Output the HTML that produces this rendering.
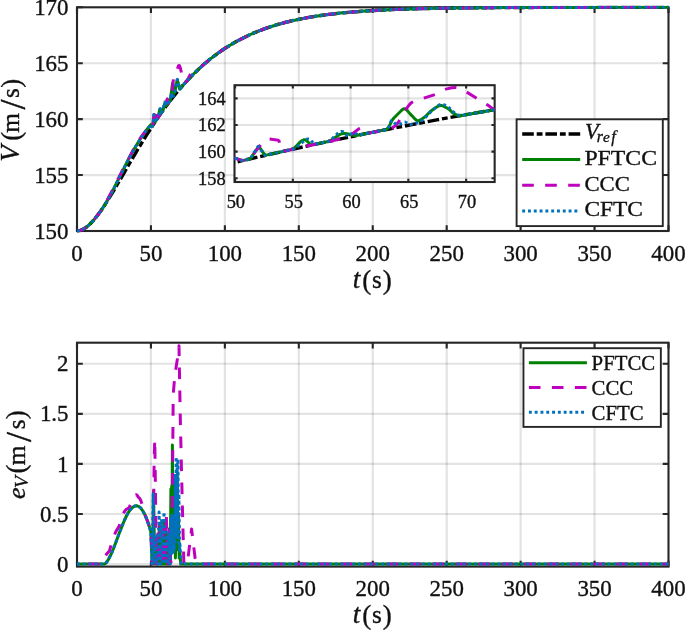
<!DOCTYPE html>
<html lang="en"><head><meta charset="utf-8"><title>Velocity tracking</title>
<style>html,body{margin:0;padding:0;background:#fff}body{width:685px;height:631px;overflow:hidden}svg text{white-space:pre}</style>
</head><body>
<svg width="685" height="631" viewBox="0 0 685 631" style="display:block">
<rect width="685" height="631" fill="#fff"/>
<defs>
<clipPath id="c1"><rect x="75.4" y="5.699999999999999" width="594.7" height="226.89999999999998"/></clipPath>
<clipPath id="c2"><rect x="75.4" y="341.09999999999997" width="594.7" height="227.10000000000002"/></clipPath>
<clipPath id="c3"><rect x="234.5" y="85.2" width="260.16" height="96.8"/></clipPath>
</defs>
<g font-family='"Liberation Serif", "DejaVu Serif", serif' fill="#111" stroke="#111" stroke-width="0.35">
<path d="M150.94,7.30V231.00M224.88,7.30V231.00M298.81,7.30V231.00M372.75,7.30V231.00M446.69,7.30V231.00M520.62,7.30V231.00M594.56,7.30V231.00" stroke="#262626" stroke-opacity="0.13" stroke-width="2.2" fill="none"/>
<path d="M77.00,175.07H668.50M77.00,119.15H668.50M77.00,63.23H668.50" stroke="#262626" stroke-opacity="0.13" stroke-width="2.2" fill="none"/>
<rect x="77.0" y="7.3" width="591.5" height="223.7" fill="none" stroke="#262626" stroke-width="2.1"/>
<path d="M77.00,231.00v-5.8M77.00,7.30v5.8M150.94,231.00v-5.8M150.94,7.30v5.8M224.88,231.00v-5.8M224.88,7.30v5.8M298.81,231.00v-5.8M298.81,7.30v5.8M372.75,231.00v-5.8M372.75,7.30v5.8M446.69,231.00v-5.8M446.69,7.30v5.8M520.62,231.00v-5.8M520.62,7.30v5.8M594.56,231.00v-5.8M594.56,7.30v5.8M668.50,231.00v-5.8M668.50,7.30v5.8M77.00,231.00h5.8M668.50,231.00h-5.8M77.00,175.07h5.8M668.50,175.07h-5.8M77.00,119.15h5.8M668.50,119.15h-5.8M77.00,63.23h5.8M668.50,63.23h-5.8M77.00,7.30h5.8M668.50,7.30h-5.8" stroke="#262626" stroke-width="2.1" fill="none"/>
<g clip-path="url(#c1)" fill="none" stroke-linejoin="round">
<path d="M77.0,231.0 L80.0,230.6 L83.1,229.3 L86.1,227.4 L89.1,224.9 L92.2,221.8 L95.2,218.3 L98.2,214.4 L101.3,210.2 L104.3,205.7 L107.3,201.0 L110.3,196.1 L113.4,191.1 L116.4,186.0 L119.4,180.8 L122.5,175.6 L125.5,170.4 L128.5,165.1 L131.6,159.9 L134.6,154.8 L137.6,149.6 L140.7,144.6 L143.7,139.6 L146.7,134.8 L149.8,130.0 L152.8,125.3 L155.8,120.8 L158.8,116.3 L161.9,112.0 L164.9,107.8 L167.9,103.7 L171.0,99.7 L174.0,95.9 L177.0,92.2 L180.1,88.6 L183.1,85.1 L186.1,81.7 L189.2,78.5 L192.2,75.4 L195.2,72.4 L198.3,69.5 L201.3,66.7 L204.3,64.0 L207.4,61.4 L210.4,58.9 L213.4,56.6 L216.4,54.3 L219.5,52.1 L222.5,50.0 L225.5,48.0 L228.6,46.1 L231.6,44.3 L234.6,42.5 L237.7,40.8 L240.7,39.2 L243.7,37.7 L246.8,36.2 L249.8,34.8 L252.8,33.4 L255.9,32.2 L258.9,30.9 L261.9,29.8 L264.9,28.7 L268.0,27.6 L271.0,26.6 L274.0,25.6 L277.1,24.7 L280.1,23.8 L283.1,23.0 L286.2,22.2 L289.2,21.5 L292.2,20.7 L295.3,20.1 L298.3,19.4 L301.3,18.8 L304.4,18.2 L307.4,17.6 L310.4,17.1 L313.5,16.6 L316.5,16.1 L319.5,15.7 L322.5,15.2 L325.6,14.8 L328.6,14.4 L331.6,14.1 L334.7,13.7 L337.7,13.4 L340.7,13.1 L343.8,12.7 L346.8,12.5 L349.8,12.2 L352.9,11.9 L355.9,11.7 L358.9,11.5 L362.0,11.2 L365.0,11.0 L368.0,10.8 L371.0,10.6 L374.1,10.5 L377.1,10.3 L380.1,10.1 L383.2,10.0 L386.2,9.8 L389.2,9.7 L392.3,9.6 L395.3,9.4 L398.3,9.3 L401.4,9.2 L404.4,9.1 L407.4,9.0 L410.5,8.9 L413.5,8.8 L416.5,8.8 L419.6,8.7 L422.6,8.6 L425.6,8.5 L428.6,8.5 L431.7,8.4 L434.7,8.3 L437.7,8.3 L440.8,8.2 L443.8,8.2 L446.8,8.1 L449.9,8.1 L452.9,8.0 L455.9,8.0 L459.0,8.0 L462.0,7.9 L465.0,7.9 L468.1,7.9 L471.1,7.8 L474.1,7.8 L477.1,7.8 L480.2,7.7 L483.2,7.7 L486.2,7.7 L489.3,7.7 L492.3,7.7 L495.3,7.6 L498.4,7.6 L501.4,7.6 L504.4,7.6 L507.5,7.6 L510.5,7.6 L513.5,7.5 L516.6,7.5 L519.6,7.5 L522.6,7.5 L525.7,7.5 L528.7,7.5 L531.7,7.5 L534.7,7.5 L537.8,7.4 L540.8,7.4 L543.8,7.4 L546.9,7.4 L549.9,7.4 L552.9,7.4 L556.0,7.4 L559.0,7.4 L562.0,7.4 L565.1,7.4 L568.1,7.4 L571.1,7.4 L574.2,7.4 L577.2,7.4 L580.2,7.4 L583.3,7.4 L586.3,7.4 L589.3,7.4 L592.3,7.4 L595.4,7.3 L598.4,7.3 L601.4,7.3 L604.5,7.3 L607.5,7.3 L610.5,7.3 L613.6,7.3 L616.6,7.3 L619.6,7.3 L622.7,7.3 L625.7,7.3 L628.7,7.3 L631.8,7.3 L634.8,7.3 L637.8,7.3 L640.8,7.3 L643.9,7.3 L646.9,7.3 L649.9,7.3 L653.0,7.3 L656.0,7.3 L659.0,7.3 L662.1,7.3 L665.1,7.3 L668.1,7.3 L668.5,7.3" stroke="#000" stroke-width="3.4" stroke-dasharray="11.6 2.9 5.8 2.9"/>
<path d="M77.0,231.0 L80.0,230.6 L83.1,229.3 L86.1,227.4 L89.1,224.9 L92.2,221.8 L95.2,218.3 L98.2,214.4 L101.3,210.2 L104.3,205.7 L107.3,200.7 L110.3,195.2 L113.4,189.4 L116.4,183.4 L119.4,177.3 L122.5,171.2 L125.5,165.2 L128.5,159.3 L131.6,153.7 L134.6,148.3 L137.6,143.2 L140.7,138.4 L143.7,133.9 L146.7,129.8 L149.8,126.0 L150.9,124.6 L151.9,126.7 L152.9,125.2 L154.0,114.8 L154.8,122.3 L157.8,117.8 L158.3,117.1 L159.7,109.4 L159.8,109.2 L160.0,109.4 L160.7,113.4 L160.8,113.5 L162.9,110.5 L164.6,104.1 L164.9,103.8 L166.2,105.6 L166.5,105.6 L169.5,101.7 L170.3,100.6 L170.7,97.7 L172.5,83.5 L172.6,83.1 L172.7,83.1 L174.2,93.0 L174.4,93.2 L175.5,88.4 L177.0,80.7 L177.3,80.4 L177.4,80.5 L178.4,83.8 L179.6,89.0 L179.6,89.1 L182.7,85.6 L185.7,82.2 L188.7,79.0 L191.8,75.8 L194.8,72.8 L197.8,69.9 L200.8,67.1 L203.9,64.4 L206.9,61.8 L209.9,59.3 L213.0,56.9 L216.0,54.6 L219.0,52.4 L222.1,50.3 L225.1,48.3 L228.1,46.4 L231.2,44.5 L234.2,42.7 L237.2,41.1 L240.3,39.4 L243.3,37.9 L246.3,36.4 L249.3,35.0 L252.4,33.6 L255.4,32.4 L258.4,31.1 L261.5,29.9 L264.5,28.8 L267.5,27.8 L270.6,26.7 L273.6,25.8 L276.6,24.8 L279.7,24.0 L282.7,23.1 L285.7,22.3 L288.8,21.6 L291.8,20.8 L294.8,20.2 L297.9,19.5 L300.9,18.9 L303.9,18.3 L306.9,17.7 L310.0,17.2 L313.0,16.7 L316.0,16.2 L319.1,15.7 L322.1,15.3 L325.1,14.9 L328.2,14.5 L331.2,14.1 L334.2,13.8 L337.3,13.4 L340.3,13.1 L343.3,12.8 L346.4,12.5 L349.4,12.2 L352.4,12.0 L355.4,11.7 L358.5,11.5 L361.5,11.3 L364.5,11.1 L367.6,10.9 L370.6,10.7 L373.6,10.5 L376.7,10.3 L379.7,10.2 L382.7,10.0 L385.8,9.9 L388.8,9.7 L391.8,9.6 L394.9,9.5 L397.9,9.3 L400.9,9.2 L404.0,9.1 L407.0,9.0 L410.0,8.9 L413.0,8.9 L416.1,8.8 L419.1,8.7 L422.1,8.6 L425.2,8.5 L428.2,8.5 L431.2,8.4 L434.3,8.3 L437.3,8.3 L440.3,8.2 L443.4,8.2 L446.4,8.1 L449.4,8.1 L452.5,8.0 L455.5,8.0 L458.5,8.0 L461.5,7.9 L464.6,7.9 L467.6,7.9 L470.6,7.8 L473.7,7.8 L476.7,7.8 L479.7,7.7 L482.8,7.7 L485.8,7.7 L488.8,7.7 L491.9,7.7 L494.9,7.6 L497.9,7.6 L501.0,7.6 L504.0,7.6 L507.0,7.6 L510.1,7.6 L513.1,7.5 L516.1,7.5 L519.1,7.5 L522.2,7.5 L525.2,7.5 L528.2,7.5 L531.3,7.5 L534.3,7.5 L537.3,7.5 L540.4,7.4 L543.4,7.4 L546.4,7.4 L549.5,7.4 L552.5,7.4 L555.5,7.4 L558.6,7.4 L561.6,7.4 L564.6,7.4 L567.6,7.4 L570.7,7.4 L573.7,7.4 L576.7,7.4 L579.8,7.4 L582.8,7.4 L585.8,7.4 L588.9,7.4 L591.9,7.4 L594.9,7.4 L598.0,7.3 L601.0,7.3 L604.0,7.3 L607.1,7.3 L610.1,7.3 L613.1,7.3 L616.2,7.3 L619.2,7.3 L622.2,7.3 L625.2,7.3 L628.3,7.3 L631.3,7.3 L634.3,7.3 L637.4,7.3 L640.4,7.3 L643.4,7.3 L646.5,7.3 L649.5,7.3 L652.5,7.3 L655.6,7.3 L658.6,7.3 L661.6,7.3 L664.7,7.3 L667.7,7.3 L668.5,7.3" stroke="#008000" stroke-width="3.0"/>
<path d="M77.0,231.0 L80.0,230.6 L83.1,229.3 L86.1,227.4 L89.1,224.9 L92.2,221.8 L95.2,218.3 L98.2,214.4 L101.3,210.1 L104.3,205.0 L107.3,199.8 L110.3,194.3 L113.4,188.2 L116.4,182.3 L119.4,176.5 L122.5,170.2 L125.5,164.3 L128.5,158.9 L131.6,153.0 L134.6,147.1 L137.6,142.0 L140.7,137.5 L143.7,133.6 L146.7,129.7 L149.8,126.0 L150.9,124.6 L151.9,126.7 L152.9,125.2 L154.9,108.8 L155.2,108.4 L155.4,108.4 L156.0,109.1 L156.3,109.3 L156.6,110.1 L156.8,118.2 L156.9,119.0 L157.0,119.0 L160.0,114.6 L163.1,110.3 L165.1,107.5 L167.0,99.4 L167.4,98.9 L167.4,98.9 L168.1,103.0 L168.2,103.3 L170.9,99.8 L171.7,95.5 L173.6,77.5 L176.7,70.9 L178.6,65.6 L179.3,65.4 L180.1,67.1 L183.1,79.3 L184.1,83.3 L184.4,83.5 L187.3,80.5 L190.3,74.5 L191.6,72.1 L194.6,71.8 L195.9,71.7 L198.9,68.8 L202.0,66.1 L205.0,63.4 L208.0,60.9 L211.0,58.4 L214.1,56.1 L217.1,53.8 L220.1,51.6 L223.2,49.6 L226.2,47.6 L229.2,45.7 L232.3,43.9 L235.3,42.1 L238.3,40.4 L241.4,38.9 L244.4,37.3 L247.4,35.9 L250.5,34.5 L253.5,33.2 L256.5,31.9 L259.6,30.7 L262.6,29.5 L265.6,28.4 L268.6,27.4 L271.7,26.4 L274.7,25.4 L277.7,24.5 L280.8,23.7 L283.8,22.8 L286.8,22.0 L289.9,21.3 L292.9,20.6 L295.9,19.9 L299.0,19.3 L302.0,18.7 L305.0,18.1 L308.1,17.5 L311.1,17.0 L314.1,16.5 L317.1,16.0 L320.2,15.6 L323.2,15.1 L326.2,14.7 L329.3,14.3 L332.3,14.0 L335.3,13.6 L338.4,13.3 L341.4,13.0 L344.4,12.7 L347.5,12.4 L350.5,12.1 L353.5,11.9 L356.6,11.6 L359.6,11.4 L362.6,11.2 L365.7,11.0 L368.7,10.8 L371.7,10.6 L374.7,10.4 L377.8,10.3 L380.8,10.1 L383.8,9.9 L386.9,9.8 L389.9,9.7 L392.9,9.5 L396.0,9.4 L399.0,9.3 L402.0,9.2 L405.1,9.1 L408.1,9.0 L411.1,8.9 L414.2,8.8 L417.2,8.7 L420.2,8.7 L423.2,8.6 L426.3,8.5 L429.3,8.4 L432.3,8.4 L435.4,8.3 L438.4,8.3 L441.4,8.2 L444.5,8.2 L447.5,8.1 L450.5,8.1 L453.6,8.0 L456.6,8.0 L459.6,8.0 L462.7,7.9 L465.7,7.9 L468.7,7.9 L471.8,7.8 L474.8,7.8 L477.8,7.8 L480.8,7.7 L483.9,7.7 L486.9,7.7 L489.9,7.7 L493.0,7.6 L496.0,7.6 L499.0,7.6 L502.1,7.6 L505.1,7.6 L508.1,7.6 L511.2,7.5 L514.2,7.5 L517.2,7.5 L520.3,7.5 L523.3,7.5 L526.3,7.5 L529.3,7.5 L532.4,7.5 L535.4,7.5 L538.4,7.4 L541.5,7.4 L544.5,7.4 L547.5,7.4 L550.6,7.4 L553.6,7.4 L556.6,7.4 L559.7,7.4 L562.7,7.4 L565.7,7.4 L568.8,7.4 L571.8,7.4 L574.8,7.4 L577.9,7.4 L580.9,7.4 L583.9,7.4 L586.9,7.4 L590.0,7.4 L593.0,7.4 L596.0,7.3 L599.1,7.3 L602.1,7.3 L605.1,7.3 L608.2,7.3 L611.2,7.3 L614.2,7.3 L617.3,7.3 L620.3,7.3 L623.3,7.3 L626.4,7.3 L629.4,7.3 L632.4,7.3 L635.4,7.3 L638.5,7.3 L641.5,7.3 L644.5,7.3 L647.6,7.3 L650.6,7.3 L653.6,7.3 L656.7,7.3 L659.7,7.3 L662.7,7.3 L665.8,7.3 L668.5,7.3" stroke="#bf00bf" stroke-width="3.0" stroke-dasharray="11.6 11.4" stroke-dashoffset="1.45"/>
<path d="M77.0,231.0 L80.0,230.6 L83.1,229.3 L86.1,227.4 L89.1,224.9 L92.2,221.8 L95.2,218.3 L98.2,214.4 L101.3,210.2 L104.3,205.7 L107.3,200.7 L110.3,195.2 L113.4,189.4 L116.4,183.4 L119.4,177.3 L122.5,171.2 L125.5,165.2 L128.5,159.3 L131.6,153.7 L134.6,148.3 L137.6,143.2 L140.7,138.4 L143.7,133.9 L146.7,129.8 L149.8,126.0 L150.9,124.6 L151.9,126.7 L152.9,125.2 L153.9,114.7 L154.8,122.3 L157.8,117.8 L158.5,116.8 L160.2,108.6 L160.3,108.5 L161.1,112.8 L161.2,112.9 L162.8,110.6 L164.5,102.3 L164.6,102.1 L164.8,102.8 L165.4,106.1 L165.4,106.2 L165.6,105.8 L165.9,103.4 L166.1,103.2 L166.8,105.1 L166.8,105.1 L169.9,101.2 L170.3,100.6 L170.6,98.5 L171.0,93.0 L171.0,93.1 L171.5,95.7 L171.8,96.3 L171.9,96.3 L172.6,94.3 L172.7,94.3 L173.3,96.2 L173.3,96.3 L174.5,94.6 L177.2,79.5 L177.4,79.3 L177.6,79.6 L179.6,88.7 L179.8,88.9 L182.8,85.4 L185.8,82.1 L188.9,78.8 L191.9,75.7 L194.9,72.6 L198.0,69.7 L201.0,66.9 L204.0,64.2 L207.1,61.7 L210.1,59.2 L213.1,56.8 L216.2,54.5 L219.2,52.3 L222.2,50.2 L225.2,48.2 L228.3,46.3 L231.3,44.4 L234.3,42.7 L237.4,41.0 L240.4,39.4 L243.4,37.8 L246.5,36.3 L249.5,34.9 L252.5,33.6 L255.6,32.3 L258.6,31.1 L261.6,29.9 L264.7,28.8 L267.7,27.7 L270.7,26.7 L273.7,25.7 L276.8,24.8 L279.8,23.9 L282.8,23.1 L285.9,22.3 L288.9,21.5 L291.9,20.8 L295.0,20.1 L298.0,19.5 L301.0,18.8 L304.1,18.3 L307.1,17.7 L310.1,17.2 L313.2,16.7 L316.2,16.2 L319.2,15.7 L322.3,15.3 L325.3,14.9 L328.3,14.5 L331.3,14.1 L334.4,13.7 L337.4,13.4 L340.4,13.1 L343.5,12.8 L346.5,12.5 L349.5,12.2 L352.6,12.0 L355.6,11.7 L358.6,11.5 L361.7,11.3 L364.7,11.0 L367.7,10.8 L370.8,10.7 L373.8,10.5 L376.8,10.3 L379.8,10.1 L382.9,10.0 L385.9,9.8 L388.9,9.7 L392.0,9.6 L395.0,9.5 L398.0,9.3 L401.1,9.2 L404.1,9.1 L407.1,9.0 L410.2,8.9 L413.2,8.8 L416.2,8.8 L419.3,8.7 L422.3,8.6 L425.3,8.5 L428.4,8.5 L431.4,8.4 L434.4,8.3 L437.4,8.3 L440.5,8.2 L443.5,8.2 L446.5,8.1 L449.6,8.1 L452.6,8.0 L455.6,8.0 L458.7,8.0 L461.7,7.9 L464.7,7.9 L467.8,7.9 L470.8,7.8 L473.8,7.8 L476.9,7.8 L479.9,7.7 L482.9,7.7 L485.9,7.7 L489.0,7.7 L492.0,7.7 L495.0,7.6 L498.1,7.6 L501.1,7.6 L504.1,7.6 L507.2,7.6 L510.2,7.6 L513.2,7.5 L516.3,7.5 L519.3,7.5 L522.3,7.5 L525.4,7.5 L528.4,7.5 L531.4,7.5 L534.5,7.5 L537.5,7.5 L540.5,7.4 L543.5,7.4 L546.6,7.4 L549.6,7.4 L552.6,7.4 L555.7,7.4 L558.7,7.4 L561.7,7.4 L564.8,7.4 L567.8,7.4 L570.8,7.4 L573.9,7.4 L576.9,7.4 L579.9,7.4 L583.0,7.4 L586.0,7.4 L589.0,7.4 L592.0,7.4 L595.1,7.4 L598.1,7.3 L601.1,7.3 L604.2,7.3 L607.2,7.3 L610.2,7.3 L613.3,7.3 L616.3,7.3 L619.3,7.3 L622.4,7.3 L625.4,7.3 L628.4,7.3 L631.5,7.3 L634.5,7.3 L637.5,7.3 L640.6,7.3 L643.6,7.3 L646.6,7.3 L649.6,7.3 L652.7,7.3 L655.7,7.3 L658.7,7.3 L661.8,7.3 L664.8,7.3 L667.8,7.3 L668.5,7.3" stroke="#0072bd" stroke-width="3.0" stroke-dasharray="2.9 2.9"/>
</g>
<text x="77.00" y="260.80" font-size="22.9" text-anchor="middle">0</text>
<text x="150.94" y="260.80" font-size="22.9" text-anchor="middle">50</text>
<text x="224.88" y="260.80" font-size="22.9" text-anchor="middle">100</text>
<text x="298.81" y="260.80" font-size="22.9" text-anchor="middle">150</text>
<text x="372.75" y="260.80" font-size="22.9" text-anchor="middle">200</text>
<text x="446.69" y="260.80" font-size="22.9" text-anchor="middle">250</text>
<text x="520.62" y="260.80" font-size="22.9" text-anchor="middle">300</text>
<text x="594.56" y="260.80" font-size="22.9" text-anchor="middle">350</text>
<text x="668.50" y="260.80" font-size="22.9" text-anchor="middle">400</text>
<text x="68.50" y="238.60" font-size="22.9" text-anchor="end">150</text>
<text x="68.50" y="182.67" font-size="22.9" text-anchor="end">155</text>
<text x="68.50" y="126.75" font-size="22.9" text-anchor="end">160</text>
<text x="68.50" y="70.83" font-size="22.9" text-anchor="end">165</text>
<text x="68.50" y="14.90" font-size="22.9" text-anchor="end">170</text>
<rect x="234.5" y="85.2" width="260.16" height="96.8" fill="#fff"/>
<path d="M292.84,85.20V182.00M350.60,85.20V182.00M408.36,85.20V182.00M466.13,85.20V182.00" stroke="#262626" stroke-opacity="0.13" stroke-width="2.2" fill="none"/>
<path d="M234.50,178.27H494.66M234.50,151.64H494.66M234.50,125.01H494.66M234.50,98.38H494.66" stroke="#262626" stroke-opacity="0.13" stroke-width="2.2" fill="none"/>
<rect x="234.5" y="85.2" width="260.16" height="96.8" fill="none" stroke="#262626" stroke-width="2.1"/>
<path d="M235.08,182.00v-3.2M235.08,85.20v3.2M292.84,182.00v-3.2M292.84,85.20v3.2M350.60,182.00v-3.2M350.60,85.20v3.2M408.36,182.00v-3.2M408.36,85.20v3.2M466.13,182.00v-3.2M466.13,85.20v3.2M234.50,178.27h3.2M494.66,178.27h-3.2M234.50,151.64h3.2M494.66,151.64h-3.2M234.50,125.01h3.2M494.66,125.01h-3.2M234.50,98.38h3.2M494.66,98.38h-3.2" stroke="#262626" stroke-width="2.1" fill="none"/>
<g clip-path="url(#c3)" fill="none" stroke-linejoin="round">
<path d="M223.5,165.1 L247.2,159.5 L270.9,154.1 L294.6,148.8 L318.3,143.6 L341.9,138.6 L365.6,133.7 L389.3,129.0 L413.0,124.4 L436.7,119.9 L460.3,115.6 L484.0,111.5 L506.6,107.7" stroke="#000" stroke-width="3.4" stroke-dasharray="11.6 2.9 5.8 2.9"/>
<path d="M223.5,160.2 L235.1,158.1 L242.6,160.6 L250.1,158.9 L250.7,158.4 L258.2,147.0 L258.8,146.4 L265.1,155.4 L288.8,150.1 L291.7,149.4 L292.8,148.9 L294.0,148.2 L295.7,146.7 L300.3,141.9 L301.5,141.0 L302.7,140.3 L303.8,139.8 L304.4,139.7 L305.0,139.8 L305.5,140.0 L306.1,140.3 L307.3,141.3 L309.6,143.7 L310.2,144.2 L310.7,144.6 L311.3,144.8 L311.9,144.9 L328.1,141.5 L329.8,140.9 L332.1,139.6 L338.5,135.2 L340.2,134.3 L341.9,133.7 L343.7,133.4 L345.4,133.4 L348.3,134.0 L352.9,135.3 L354.6,135.5 L356.4,135.5 L380.1,130.8 L386.4,129.6 L387.0,129.1 L388.1,127.8 L388.7,127.1 L389.3,126.2 L391.6,121.1 L392.2,120.2 L393.9,118.0 L401.4,110.5 L402.6,109.5 L403.2,109.2 L403.7,108.9 L404.3,108.7 L404.9,108.8 L405.5,109.0 L406.1,109.4 L407.2,110.5 L410.1,113.9 L411.8,115.6 L414.7,118.7 L415.9,119.8 L416.5,120.2 L417.0,120.5 L417.6,120.7 L418.2,120.7 L419.3,120.4 L420.5,119.9 L425.1,116.7 L430.3,111.5 L435.5,107.7 L437.8,106.4 L439.6,105.7 L440.7,105.5 L441.9,105.6 L443.0,105.9 L448.2,108.7 L450.0,110.1 L452.8,112.8 L454.0,113.7 L456.3,114.9 L458.6,115.7 L459.2,115.9 L482.9,111.7 L506.6,107.7" stroke="#008000" stroke-width="3.0"/>
<path d="M223.5,160.2 L235.1,158.1 L242.6,160.6 L250.1,158.9 L250.7,158.4 L255.3,151.5 L262.8,142.4 L264.5,140.6 L265.7,139.7 L266.8,139.1 L267.4,138.9 L268.6,138.8 L270.3,139.0 L273.2,139.6 L276.7,139.9 L277.8,140.2 L278.4,140.4 L279.0,140.8 L279.6,143.4 L280.1,147.8 L280.7,150.6 L281.3,151.1 L281.9,151.5 L282.4,151.5 L306.1,146.3 L329.8,141.2 L346.0,137.8 L352.9,133.5 L358.1,129.3 L359.3,128.6 L360.4,128.1 L363.3,127.5 L363.9,127.6 L364.5,128.0 L365.0,128.6 L366.8,130.8 L367.4,131.5 L367.9,131.9 L369.1,132.5 L370.2,132.8 L391.0,128.6 L392.2,128.1 L393.9,126.8 L396.8,124.2 L398.0,122.8 L399.7,120.0 L403.7,112.4 L404.9,110.6 L408.9,105.3 L410.7,103.4 L411.8,102.4 L414.1,101.1 L435.5,94.4 L441.3,91.6 L444.8,89.5 L445.9,89.1 L451.7,87.8 L456.3,87.6 L457.5,87.7 L459.8,88.4 L462.1,89.3 L485.8,103.8 L488.1,105.3 L491.5,107.9 L492.7,108.5 L493.9,109.0 L496.2,109.3 L497.3,109.2 L506.6,107.7" stroke="#bf00bf" stroke-width="3.0" stroke-dasharray="11.6 11.4" stroke-dashoffset="12.64"/>
<path d="M223.5,160.2 L235.1,158.1 L242.6,160.6 L250.1,158.9 L258.2,146.4 L265.1,155.4 L288.8,150.1 L293.4,149.0 L294.6,148.6 L296.3,147.5 L303.8,141.0 L305.5,139.9 L306.7,139.3 L307.9,139.0 L308.4,138.9 L309.0,139.0 L309.6,139.3 L310.2,139.8 L313.1,142.8 L313.6,143.3 L314.2,143.7 L314.8,144.0 L315.4,144.2 L315.9,144.1 L328.1,141.5 L329.2,141.0 L330.4,140.3 L332.1,138.8 L337.3,133.7 L339.0,132.4 L340.2,131.8 L341.4,131.4 L341.9,131.4 L342.5,131.5 L343.1,131.7 L343.7,132.1 L344.8,133.2 L347.1,135.7 L347.7,136.1 L348.3,136.2 L348.9,136.1 L349.4,135.7 L351.2,133.8 L351.8,133.3 L352.3,132.9 L352.9,132.7 L353.5,132.7 L354.1,132.7 L354.6,132.9 L357.5,134.5 L358.1,134.7 L358.7,134.9 L359.3,135.0 L382.9,130.2 L386.4,129.6 L387.0,129.1 L387.6,128.6 L388.7,127.1 L389.3,125.9 L390.5,122.5 L391.0,121.2 L391.6,120.5 L392.2,120.6 L392.8,121.0 L394.5,122.9 L395.1,123.4 L395.7,123.7 L397.4,124.3 L398.5,124.5 L399.1,124.4 L400.3,124.0 L403.2,122.4 L403.7,122.2 L404.3,122.1 L404.9,122.1 L405.5,122.2 L406.6,122.8 L408.9,124.1 L409.5,124.4 L410.1,124.5 L410.7,124.4 L418.8,122.6 L419.3,122.4 L420.5,121.8 L425.7,117.1 L431.5,111.1 L437.2,106.2 L439.0,105.0 L440.1,104.5 L441.3,104.2 L441.9,104.1 L443.0,104.3 L444.2,104.8 L449.4,108.1 L454.6,113.0 L455.7,113.8 L458.0,114.9 L459.8,115.5 L460.3,115.6 L484.0,111.5 L506.6,107.7" stroke="#0072bd" stroke-width="3.0" stroke-dasharray="2.9 2.9"/>
</g>
<text x="235.88" y="208.40" font-size="18.4" text-anchor="middle">50</text>
<text x="293.64" y="208.40" font-size="18.4" text-anchor="middle">55</text>
<text x="351.40" y="208.40" font-size="18.4" text-anchor="middle">60</text>
<text x="409.16" y="208.40" font-size="18.4" text-anchor="middle">65</text>
<text x="466.93" y="208.40" font-size="18.4" text-anchor="middle">70</text>
<text x="225.60" y="184.57" font-size="18.4" text-anchor="end">158</text>
<text x="225.60" y="157.94" font-size="18.4" text-anchor="end">160</text>
<text x="225.60" y="131.31" font-size="18.4" text-anchor="end">162</text>
<text x="225.60" y="104.68" font-size="18.4" text-anchor="end">164</text>
<path d="M150.94,342.70V566.60M224.88,342.70V566.60M298.81,342.70V566.60M372.75,342.70V566.60M446.69,342.70V566.60M520.62,342.70V566.60M594.56,342.70V566.60" stroke="#262626" stroke-opacity="0.13" stroke-width="2.2" fill="none"/>
<path d="M77.00,564.10H668.50M77.00,514.01H668.50M77.00,463.92H668.50M77.00,413.83H668.50M77.00,363.74H668.50" stroke="#262626" stroke-opacity="0.13" stroke-width="2.2" fill="none"/>
<rect x="77.0" y="342.7" width="591.5" height="223.90000000000003" fill="none" stroke="#262626" stroke-width="2.1"/>
<path d="M77.00,566.60v-5.8M77.00,342.70v5.8M150.94,566.60v-5.8M150.94,342.70v5.8M224.88,566.60v-5.8M224.88,342.70v5.8M298.81,566.60v-5.8M298.81,342.70v5.8M372.75,566.60v-5.8M372.75,342.70v5.8M446.69,566.60v-5.8M446.69,342.70v5.8M520.62,566.60v-5.8M520.62,342.70v5.8M594.56,566.60v-5.8M594.56,342.70v5.8M668.50,566.60v-5.8M668.50,342.70v5.8M77.00,564.10h5.8M668.50,564.10h-5.8M77.00,514.01h5.8M668.50,514.01h-5.8M77.00,463.92h5.8M668.50,463.92h-5.8M77.00,413.83h5.8M668.50,413.83h-5.8M77.00,363.74h5.8M668.50,363.74h-5.8" stroke="#262626" stroke-width="2.1" fill="none"/>
<g clip-path="url(#c2)" fill="none" stroke-linejoin="round">
<path d="M77.0,564.1 L78.2,564.1 L79.4,564.1 L80.6,564.1 L81.9,564.1 L83.1,564.1 L84.3,564.1 L85.5,564.1 L86.7,564.1 L87.9,564.1 L89.1,564.1 L90.3,564.1 L91.6,564.1 L92.8,564.1 L94.0,564.1 L95.2,564.1 L96.4,564.1 L97.6,564.1 L98.8,564.1 L100.0,564.1 L101.3,564.1 L102.5,564.1 L103.7,564.1 L104.9,563.8 L106.1,562.8 L107.3,561.3 L108.5,559.3 L109.7,557.0 L111.0,554.5 L112.2,551.7 L113.4,548.8 L114.6,545.7 L115.8,542.5 L117.0,539.3 L118.2,536.0 L119.4,532.8 L120.7,529.6 L121.9,526.5 L123.1,523.5 L124.3,520.6 L125.5,518.0 L126.7,515.5 L127.9,513.3 L129.1,511.4 L130.4,509.7 L131.6,508.3 L132.8,507.2 L134.0,506.4 L135.2,505.9 L136.4,505.8 L137.6,506.0 L138.8,506.6 L140.1,507.5 L141.3,508.8 L142.5,510.5 L143.7,512.5 L144.9,514.9 L146.1,517.6 L147.3,520.7 L148.5,524.2 L149.8,528.0 L150.9,532.1 L152.2,564.1 L152.6,564.1 L153.5,491.0 L154.7,564.1 L154.9,564.1 L156.0,539.1 L157.2,564.1 L158.2,564.1 L159.4,524.0 L160.6,564.1 L160.8,564.1 L161.9,534.0 L163.1,564.1 L164.2,522.0 L165.5,564.1 L165.9,564.1 L166.9,534.0 L168.1,564.1 L169.1,529.0 L170.3,564.1 L170.9,489.0 L171.3,535.5 L171.7,485.9 L172.0,520.2 L172.4,444.9 L172.8,525.9 L173.1,484.0 L173.5,537.3 L173.9,490.8 L174.4,542.7 L174.8,505.3 L175.4,558.1 L176.1,514.0 L176.6,549.7 L177.3,473.9 L177.9,550.1 L178.4,514.0 L179.2,558.1 L179.6,549.1 L180.8,564.1 L182.1,564.1 L183.3,564.1 L184.5,564.1 L185.7,564.1 L186.9,564.1 L188.1,564.1 L189.3,564.1 L190.5,564.1 L191.8,564.1 L193.0,564.1 L194.2,564.1 L195.4,564.1 L196.6,564.1 L197.8,564.1 L199.0,564.1 L200.2,564.1 L201.5,564.1 L202.7,564.1 L203.9,564.1 L205.1,564.1 L206.3,564.1 L207.5,564.1 L208.7,564.1 L209.9,564.1 L211.2,564.1 L212.4,564.1 L213.6,564.1 L214.8,564.1 L216.0,564.1 L217.2,564.1 L218.4,564.1 L219.6,564.1 L220.9,564.1 L222.1,564.1 L223.3,564.1 L224.5,564.1 L225.7,564.1 L226.9,564.1 L228.1,564.1 L229.3,564.1 L230.6,564.1 L231.8,564.1 L233.0,564.1 L234.2,564.1 L235.4,564.1 L236.6,564.1 L237.8,564.1 L239.0,564.1 L240.3,564.1 L241.5,564.1 L242.7,564.1 L243.9,564.1 L245.1,564.1 L246.3,564.1 L247.5,564.1 L248.7,564.1 L250.0,564.1 L251.2,564.1 L252.4,564.1 L253.6,564.1 L254.8,564.1 L256.0,564.1 L257.2,564.1 L258.4,564.1 L259.7,564.1 L260.9,564.1 L262.1,564.1 L263.3,564.1 L264.5,564.1 L265.7,564.1 L266.9,564.1 L268.1,564.1 L269.4,564.1 L270.6,564.1 L271.8,564.1 L273.0,564.1 L274.2,564.1 L275.4,564.1 L276.6,564.1 L277.8,564.1 L279.1,564.1 L280.3,564.1 L281.5,564.1 L282.7,564.1 L283.9,564.1 L285.1,564.1 L286.3,564.1 L287.5,564.1 L288.8,564.1 L290.0,564.1 L291.2,564.1 L292.4,564.1 L293.6,564.1 L294.8,564.1 L296.0,564.1 L297.2,564.1 L298.5,564.1 L299.7,564.1 L300.9,564.1 L302.1,564.1 L303.3,564.1 L304.5,564.1 L305.7,564.1 L306.9,564.1 L308.2,564.1 L309.4,564.1 L310.6,564.1 L311.8,564.1 L313.0,564.1 L314.2,564.1 L315.4,564.1 L316.6,564.1 L317.9,564.1 L319.1,564.1 L320.3,564.1 L321.5,564.1 L322.7,564.1 L323.9,564.1 L325.1,564.1 L326.3,564.1 L327.6,564.1 L328.8,564.1 L330.0,564.1 L331.2,564.1 L332.4,564.1 L333.6,564.1 L334.8,564.1 L336.0,564.1 L337.3,564.1 L338.5,564.1 L339.7,564.1 L340.9,564.1 L342.1,564.1 L343.3,564.1 L344.5,564.1 L345.7,564.1 L347.0,564.1 L348.2,564.1 L349.4,564.1 L350.6,564.1 L351.8,564.1 L353.0,564.1 L354.2,564.1 L355.4,564.1 L356.7,564.1 L357.9,564.1 L359.1,564.1 L360.3,564.1 L361.5,564.1 L362.7,564.1 L363.9,564.1 L365.1,564.1 L366.4,564.1 L367.6,564.1 L368.8,564.1 L370.0,564.1 L371.2,564.1 L372.4,564.1 L373.6,564.1 L374.8,564.1 L376.1,564.1 L377.3,564.1 L378.5,564.1 L379.7,564.1 L380.9,564.1 L382.1,564.1 L383.3,564.1 L384.6,564.1 L385.8,564.1 L387.0,564.1 L388.2,564.1 L389.4,564.1 L390.6,564.1 L391.8,564.1 L393.0,564.1 L394.3,564.1 L395.5,564.1 L396.7,564.1 L397.9,564.1 L399.1,564.1 L400.3,564.1 L401.5,564.1 L402.7,564.1 L404.0,564.1 L405.2,564.1 L406.4,564.1 L407.6,564.1 L408.8,564.1 L410.0,564.1 L411.2,564.1 L412.4,564.1 L413.7,564.1 L414.9,564.1 L416.1,564.1 L417.3,564.1 L418.5,564.1 L419.7,564.1 L420.9,564.1 L422.1,564.1 L423.4,564.1 L424.6,564.1 L425.8,564.1 L427.0,564.1 L428.2,564.1 L429.4,564.1 L430.6,564.1 L431.8,564.1 L433.1,564.1 L434.3,564.1 L435.5,564.1 L436.7,564.1 L437.9,564.1 L439.1,564.1 L440.3,564.1 L441.5,564.1 L442.8,564.1 L444.0,564.1 L445.2,564.1 L446.4,564.1 L447.6,564.1 L448.8,564.1 L450.0,564.1 L451.2,564.1 L452.5,564.1 L453.7,564.1 L454.9,564.1 L456.1,564.1 L457.3,564.1 L458.5,564.1 L459.7,564.1 L460.9,564.1 L462.2,564.1 L463.4,564.1 L464.6,564.1 L465.8,564.1 L467.0,564.1 L468.2,564.1 L469.4,564.1 L470.6,564.1 L471.9,564.1 L473.1,564.1 L474.3,564.1 L475.5,564.1 L476.7,564.1 L477.9,564.1 L479.1,564.1 L480.3,564.1 L481.6,564.1 L482.8,564.1 L484.0,564.1 L485.2,564.1 L486.4,564.1 L487.6,564.1 L488.8,564.1 L490.0,564.1 L491.3,564.1 L492.5,564.1 L493.7,564.1 L494.9,564.1 L496.1,564.1 L497.3,564.1 L498.5,564.1 L499.7,564.1 L501.0,564.1 L502.2,564.1 L503.4,564.1 L504.6,564.1 L505.8,564.1 L507.0,564.1 L508.2,564.1 L509.4,564.1 L510.7,564.1 L511.9,564.1 L513.1,564.1 L514.3,564.1 L515.5,564.1 L516.7,564.1 L517.9,564.1 L519.1,564.1 L520.4,564.1 L521.6,564.1 L522.8,564.1 L524.0,564.1 L525.2,564.1 L526.4,564.1 L527.6,564.1 L528.8,564.1 L530.1,564.1 L531.3,564.1 L532.5,564.1 L533.7,564.1 L534.9,564.1 L536.1,564.1 L537.3,564.1 L538.5,564.1 L539.8,564.1 L541.0,564.1 L542.2,564.1 L543.4,564.1 L544.6,564.1 L545.8,564.1 L547.0,564.1 L548.2,564.1 L549.5,564.1 L550.7,564.1 L551.9,564.1 L553.1,564.1 L554.3,564.1 L555.5,564.1 L556.7,564.1 L557.9,564.1 L559.2,564.1 L560.4,564.1 L561.6,564.1 L562.8,564.1 L564.0,564.1 L565.2,564.1 L566.4,564.1 L567.6,564.1 L568.9,564.1 L570.1,564.1 L571.3,564.1 L572.5,564.1 L573.7,564.1 L574.9,564.1 L576.1,564.1 L577.3,564.1 L578.6,564.1 L579.8,564.1 L581.0,564.1 L582.2,564.1 L583.4,564.1 L584.6,564.1 L585.8,564.1 L587.1,564.1 L588.3,564.1 L589.5,564.1 L590.7,564.1 L591.9,564.1 L593.1,564.1 L594.3,564.1 L595.5,564.1 L596.8,564.1 L598.0,564.1 L599.2,564.1 L600.4,564.1 L601.6,564.1 L602.8,564.1 L604.0,564.1 L605.2,564.1 L606.5,564.1 L607.7,564.1 L608.9,564.1 L610.1,564.1 L611.3,564.1 L612.5,564.1 L613.7,564.1 L614.9,564.1 L616.2,564.1 L617.4,564.1 L618.6,564.1 L619.8,564.1 L621.0,564.1 L622.2,564.1 L623.4,564.1 L624.6,564.1 L625.9,564.1 L627.1,564.1 L628.3,564.1 L629.5,564.1 L630.7,564.1 L631.9,564.1 L633.1,564.1 L634.3,564.1 L635.6,564.1 L636.8,564.1 L638.0,564.1 L639.2,564.1 L640.4,564.1 L641.6,564.1 L642.8,564.1 L644.0,564.1 L645.3,564.1 L646.5,564.1 L647.7,564.1 L648.9,564.1 L650.1,564.1 L651.3,564.1 L652.5,564.1 L653.7,564.1 L655.0,564.1 L656.2,564.1 L657.4,564.1 L658.6,564.1 L659.8,564.1 L661.0,564.1 L662.2,564.1 L663.4,564.1 L664.7,564.1 L665.9,564.1 L667.1,564.1 L668.3,564.1 L668.5,564.1" stroke="#008000" stroke-width="3.0"/>
<path d="M77.0,564.1 L78.2,564.1 L79.4,564.1 L80.6,564.1 L81.9,564.1 L83.1,564.1 L84.3,564.1 L85.5,564.1 L86.7,564.1 L87.9,564.1 L89.1,564.1 L90.3,564.1 L91.6,564.1 L92.8,564.1 L94.0,564.1 L95.2,564.1 L96.4,564.1 L97.6,564.1 L98.8,564.1 L100.0,564.1 L101.3,563.3 L102.5,561.2 L103.7,558.5 L104.9,556.5 L106.1,554.8 L107.3,553.3 L108.5,551.9 L109.5,550.7 L110.7,546.5 L112.0,542.3 L113.2,538.4 L114.4,535.1 L115.6,532.2 L116.8,529.9 L118.0,527.9 L119.2,526.1 L120.4,521.9 L121.7,518.0 L122.9,514.7 L124.1,512.1 L125.3,510.3 L126.5,509.2 L127.7,508.6 L128.8,508.4 L130.0,505.5 L131.2,502.7 L132.4,500.1 L133.6,497.6 L134.8,495.6 L136.0,494.7 L137.2,495.3 L138.5,497.4 L139.7,498.4 L140.9,500.7 L142.1,504.4 L143.3,508.4 L144.5,512.7 L145.7,516.3 L146.9,519.5 L148.2,523.0 L149.4,526.7 L150.6,530.8 L150.9,532.0 L152.1,564.1 L153.0,564.1 L154.2,456.9 L154.8,439.2 L156.1,544.0 L156.6,564.1 L157.7,534.0 L159.0,564.1 L159.1,564.1 L160.3,523.0 L160.4,519.0 L161.6,560.1 L162.0,564.1 L163.2,532.1 L163.4,529.0 L164.6,561.0 L165.0,564.1 L166.2,518.5 L166.3,514.0 L167.5,559.6 L167.9,564.1 L169.2,527.6 L169.3,524.0 L170.5,560.5 L171.6,564.1 L172.0,544.9 L173.2,394.8 L174.4,380.4 L175.6,370.8 L176.8,362.7 L178.1,354.6 L179.0,345.8 L180.2,413.7 L181.4,466.2 L182.6,514.7 L183.8,561.7 L185.0,564.1 L186.3,564.1 L187.3,564.1 L188.5,554.2 L189.7,544.3 L191.0,534.4 L191.6,529.0 L192.8,538.9 L194.0,548.9 L195.2,558.8 L196.5,564.1 L197.7,564.1 L198.9,564.1 L200.1,564.1 L201.3,564.1 L202.5,564.1 L203.7,564.1 L204.9,564.1 L206.2,564.1 L207.4,564.1 L208.6,564.1 L209.8,564.1 L211.0,564.1 L212.2,564.1 L213.4,564.1 L214.6,564.1 L215.9,564.1 L217.1,564.1 L218.3,564.1 L219.5,564.1 L220.7,564.1 L221.9,564.1 L223.1,564.1 L224.3,564.1 L225.6,564.1 L226.8,564.1 L228.0,564.1 L229.2,564.1 L230.4,564.1 L231.6,564.1 L232.8,564.1 L234.0,564.1 L235.3,564.1 L236.5,564.1 L237.7,564.1 L238.9,564.1 L240.1,564.1 L241.3,564.1 L242.5,564.1 L243.7,564.1 L245.0,564.1 L246.2,564.1 L247.4,564.1 L248.6,564.1 L249.8,564.1 L251.0,564.1 L252.2,564.1 L253.4,564.1 L254.7,564.1 L255.9,564.1 L257.1,564.1 L258.3,564.1 L259.5,564.1 L260.7,564.1 L261.9,564.1 L263.1,564.1 L264.4,564.1 L265.6,564.1 L266.8,564.1 L268.0,564.1 L269.2,564.1 L270.4,564.1 L271.6,564.1 L272.8,564.1 L274.1,564.1 L275.3,564.1 L276.5,564.1 L277.7,564.1 L278.9,564.1 L280.1,564.1 L281.3,564.1 L282.5,564.1 L283.8,564.1 L285.0,564.1 L286.2,564.1 L287.4,564.1 L288.6,564.1 L289.8,564.1 L291.0,564.1 L292.2,564.1 L293.5,564.1 L294.7,564.1 L295.9,564.1 L297.1,564.1 L298.3,564.1 L299.5,564.1 L300.7,564.1 L301.9,564.1 L303.2,564.1 L304.4,564.1 L305.6,564.1 L306.8,564.1 L308.0,564.1 L309.2,564.1 L310.4,564.1 L311.6,564.1 L312.9,564.1 L314.1,564.1 L315.3,564.1 L316.5,564.1 L317.7,564.1 L318.9,564.1 L320.1,564.1 L321.3,564.1 L322.6,564.1 L323.8,564.1 L325.0,564.1 L326.2,564.1 L327.4,564.1 L328.6,564.1 L329.8,564.1 L331.0,564.1 L332.3,564.1 L333.5,564.1 L334.7,564.1 L335.9,564.1 L337.1,564.1 L338.3,564.1 L339.5,564.1 L340.7,564.1 L342.0,564.1 L343.2,564.1 L344.4,564.1 L345.6,564.1 L346.8,564.1 L348.0,564.1 L349.2,564.1 L350.5,564.1 L351.7,564.1 L352.9,564.1 L354.1,564.1 L355.3,564.1 L356.5,564.1 L357.7,564.1 L358.9,564.1 L360.2,564.1 L361.4,564.1 L362.6,564.1 L363.8,564.1 L365.0,564.1 L366.2,564.1 L367.4,564.1 L368.6,564.1 L369.9,564.1 L371.1,564.1 L372.3,564.1 L373.5,564.1 L374.7,564.1 L375.9,564.1 L377.1,564.1 L378.3,564.1 L379.6,564.1 L380.8,564.1 L382.0,564.1 L383.2,564.1 L384.4,564.1 L385.6,564.1 L386.8,564.1 L388.0,564.1 L389.3,564.1 L390.5,564.1 L391.7,564.1 L392.9,564.1 L394.1,564.1 L395.3,564.1 L396.5,564.1 L397.7,564.1 L399.0,564.1 L400.2,564.1 L401.4,564.1 L402.6,564.1 L403.8,564.1 L405.0,564.1 L406.2,564.1 L407.4,564.1 L408.7,564.1 L409.9,564.1 L411.1,564.1 L412.3,564.1 L413.5,564.1 L414.7,564.1 L415.9,564.1 L417.1,564.1 L418.4,564.1 L419.6,564.1 L420.8,564.1 L422.0,564.1 L423.2,564.1 L424.4,564.1 L425.6,564.1 L426.8,564.1 L428.1,564.1 L429.3,564.1 L430.5,564.1 L431.7,564.1 L432.9,564.1 L434.1,564.1 L435.3,564.1 L436.5,564.1 L437.8,564.1 L439.0,564.1 L440.2,564.1 L441.4,564.1 L442.6,564.1 L443.8,564.1 L445.0,564.1 L446.2,564.1 L447.5,564.1 L448.7,564.1 L449.9,564.1 L451.1,564.1 L452.3,564.1 L453.5,564.1 L454.7,564.1 L455.9,564.1 L457.2,564.1 L458.4,564.1 L459.6,564.1 L460.8,564.1 L462.0,564.1 L463.2,564.1 L464.4,564.1 L465.6,564.1 L466.9,564.1 L468.1,564.1 L469.3,564.1 L470.5,564.1 L471.7,564.1 L472.9,564.1 L474.1,564.1 L475.3,564.1 L476.6,564.1 L477.8,564.1 L479.0,564.1 L480.2,564.1 L481.4,564.1 L482.6,564.1 L483.8,564.1 L485.0,564.1 L486.3,564.1 L487.5,564.1 L488.7,564.1 L489.9,564.1 L491.1,564.1 L492.3,564.1 L493.5,564.1 L494.7,564.1 L496.0,564.1 L497.2,564.1 L498.4,564.1 L499.6,564.1 L500.8,564.1 L502.0,564.1 L503.2,564.1 L504.4,564.1 L505.7,564.1 L506.9,564.1 L508.1,564.1 L509.3,564.1 L510.5,564.1 L511.7,564.1 L512.9,564.1 L514.1,564.1 L515.4,564.1 L516.6,564.1 L517.8,564.1 L519.0,564.1 L520.2,564.1 L521.4,564.1 L522.6,564.1 L523.8,564.1 L525.1,564.1 L526.3,564.1 L527.5,564.1 L528.7,564.1 L529.9,564.1 L531.1,564.1 L532.3,564.1 L533.5,564.1 L534.8,564.1 L536.0,564.1 L537.2,564.1 L538.4,564.1 L539.6,564.1 L540.8,564.1 L542.0,564.1 L543.2,564.1 L544.5,564.1 L545.7,564.1 L546.9,564.1 L548.1,564.1 L549.3,564.1 L550.5,564.1 L551.7,564.1 L553.0,564.1 L554.2,564.1 L555.4,564.1 L556.6,564.1 L557.8,564.1 L559.0,564.1 L560.2,564.1 L561.4,564.1 L562.7,564.1 L563.9,564.1 L565.1,564.1 L566.3,564.1 L567.5,564.1 L568.7,564.1 L569.9,564.1 L571.1,564.1 L572.4,564.1 L573.6,564.1 L574.8,564.1 L576.0,564.1 L577.2,564.1 L578.4,564.1 L579.6,564.1 L580.8,564.1 L582.1,564.1 L583.3,564.1 L584.5,564.1 L585.7,564.1 L586.9,564.1 L588.1,564.1 L589.3,564.1 L590.5,564.1 L591.8,564.1 L593.0,564.1 L594.2,564.1 L595.4,564.1 L596.6,564.1 L597.8,564.1 L599.0,564.1 L600.2,564.1 L601.5,564.1 L602.7,564.1 L603.9,564.1 L605.1,564.1 L606.3,564.1 L607.5,564.1 L608.7,564.1 L609.9,564.1 L611.2,564.1 L612.4,564.1 L613.6,564.1 L614.8,564.1 L616.0,564.1 L617.2,564.1 L618.4,564.1 L619.6,564.1 L620.9,564.1 L622.1,564.1 L623.3,564.1 L624.5,564.1 L625.7,564.1 L626.9,564.1 L628.1,564.1 L629.3,564.1 L630.6,564.1 L631.8,564.1 L633.0,564.1 L634.2,564.1 L635.4,564.1 L636.6,564.1 L637.8,564.1 L639.0,564.1 L640.3,564.1 L641.5,564.1 L642.7,564.1 L643.9,564.1 L645.1,564.1 L646.3,564.1 L647.5,564.1 L648.7,564.1 L650.0,564.1 L651.2,564.1 L652.4,564.1 L653.6,564.1 L654.8,564.1 L656.0,564.1 L657.2,564.1 L658.4,564.1 L659.7,564.1 L660.9,564.1 L662.1,564.1 L663.3,564.1 L664.5,564.1 L665.7,564.1 L666.9,564.1 L668.1,564.1 L668.5,564.1" stroke="#bf00bf" stroke-width="3.0" stroke-dasharray="11.6 11.4" stroke-dashoffset="12.37"/>
<path d="M77.0,564.1 L78.2,564.1 L79.4,564.1 L80.6,564.1 L81.9,564.1 L83.1,564.1 L84.3,564.1 L85.5,564.1 L86.7,564.1 L87.9,564.1 L89.1,564.1 L90.3,564.1 L91.6,564.1 L92.8,564.1 L94.0,564.1 L95.2,564.1 L96.4,564.1 L97.6,564.1 L98.8,564.1 L100.0,564.1 L101.3,564.1 L102.5,564.1 L103.7,564.1 L104.9,563.8 L106.1,562.8 L107.3,561.3 L108.5,559.3 L109.7,557.0 L111.0,554.5 L112.2,551.7 L113.4,548.8 L114.6,545.7 L115.8,542.5 L117.0,539.3 L118.2,536.0 L119.4,532.8 L120.7,529.6 L121.9,526.5 L123.1,523.5 L124.3,520.6 L125.5,518.0 L126.7,515.5 L127.9,513.3 L129.1,511.4 L130.4,509.7 L131.6,508.3 L132.8,507.2 L134.0,506.4 L135.2,505.9 L136.4,505.8 L137.6,506.0 L138.8,506.6 L140.1,507.5 L141.3,508.8 L142.5,510.5 L143.7,512.5 L144.9,514.9 L146.1,517.6 L147.3,520.7 L148.5,524.2 L149.8,528.0 L150.9,532.1 L152.2,564.1 L152.3,564.1 L153.2,494.0 L154.3,564.1 L155.4,534.0 L156.6,564.1 L157.8,564.1 L157.9,564.1 L159.1,512.0 L160.3,564.1 L160.5,564.1 L161.6,519.0 L162.8,564.1 L164.0,512.0 L165.2,564.1 L165.3,564.1 L166.3,532.0 L167.5,564.1 L167.6,564.1 L168.7,534.0 L169.9,564.1 L170.0,564.1 L170.8,519.0 L171.3,554.1 L171.9,514.0 L172.5,554.1 L173.1,514.0 L173.7,554.1 L174.3,514.0 L174.8,550.1 L175.3,473.9 L175.8,537.3 L176.2,456.9 L176.7,537.3 L177.1,463.9 L177.6,537.8 L178.0,458.9 L178.5,543.1 L178.9,494.0 L179.6,552.1 L179.9,544.1 L181.1,564.1 L182.3,564.1 L183.6,564.1 L184.8,564.1 L186.0,564.1 L187.2,564.1 L188.4,564.1 L189.6,564.1 L190.8,564.1 L192.0,564.1 L193.3,564.1 L194.5,564.1 L195.7,564.1 L196.9,564.1 L198.1,564.1 L199.3,564.1 L200.5,564.1 L201.7,564.1 L203.0,564.1 L204.2,564.1 L205.4,564.1 L206.6,564.1 L207.8,564.1 L209.0,564.1 L210.2,564.1 L211.4,564.1 L212.7,564.1 L213.9,564.1 L215.1,564.1 L216.3,564.1 L217.5,564.1 L218.7,564.1 L219.9,564.1 L221.1,564.1 L222.4,564.1 L223.6,564.1 L224.8,564.1 L226.0,564.1 L227.2,564.1 L228.4,564.1 L229.6,564.1 L230.8,564.1 L232.1,564.1 L233.3,564.1 L234.5,564.1 L235.7,564.1 L236.9,564.1 L238.1,564.1 L239.3,564.1 L240.5,564.1 L241.8,564.1 L243.0,564.1 L244.2,564.1 L245.4,564.1 L246.6,564.1 L247.8,564.1 L249.0,564.1 L250.3,564.1 L251.5,564.1 L252.7,564.1 L253.9,564.1 L255.1,564.1 L256.3,564.1 L257.5,564.1 L258.7,564.1 L260.0,564.1 L261.2,564.1 L262.4,564.1 L263.6,564.1 L264.8,564.1 L266.0,564.1 L267.2,564.1 L268.4,564.1 L269.7,564.1 L270.9,564.1 L272.1,564.1 L273.3,564.1 L274.5,564.1 L275.7,564.1 L276.9,564.1 L278.1,564.1 L279.4,564.1 L280.6,564.1 L281.8,564.1 L283.0,564.1 L284.2,564.1 L285.4,564.1 L286.6,564.1 L287.8,564.1 L289.1,564.1 L290.3,564.1 L291.5,564.1 L292.7,564.1 L293.9,564.1 L295.1,564.1 L296.3,564.1 L297.5,564.1 L298.8,564.1 L300.0,564.1 L301.2,564.1 L302.4,564.1 L303.6,564.1 L304.8,564.1 L306.0,564.1 L307.2,564.1 L308.5,564.1 L309.7,564.1 L310.9,564.1 L312.1,564.1 L313.3,564.1 L314.5,564.1 L315.7,564.1 L316.9,564.1 L318.2,564.1 L319.4,564.1 L320.6,564.1 L321.8,564.1 L323.0,564.1 L324.2,564.1 L325.4,564.1 L326.6,564.1 L327.9,564.1 L329.1,564.1 L330.3,564.1 L331.5,564.1 L332.7,564.1 L333.9,564.1 L335.1,564.1 L336.3,564.1 L337.6,564.1 L338.8,564.1 L340.0,564.1 L341.2,564.1 L342.4,564.1 L343.6,564.1 L344.8,564.1 L346.0,564.1 L347.3,564.1 L348.5,564.1 L349.7,564.1 L350.9,564.1 L352.1,564.1 L353.3,564.1 L354.5,564.1 L355.7,564.1 L357.0,564.1 L358.2,564.1 L359.4,564.1 L360.6,564.1 L361.8,564.1 L363.0,564.1 L364.2,564.1 L365.4,564.1 L366.7,564.1 L367.9,564.1 L369.1,564.1 L370.3,564.1 L371.5,564.1 L372.7,564.1 L373.9,564.1 L375.1,564.1 L376.4,564.1 L377.6,564.1 L378.8,564.1 L380.0,564.1 L381.2,564.1 L382.4,564.1 L383.6,564.1 L384.8,564.1 L386.1,564.1 L387.3,564.1 L388.5,564.1 L389.7,564.1 L390.9,564.1 L392.1,564.1 L393.3,564.1 L394.5,564.1 L395.8,564.1 L397.0,564.1 L398.2,564.1 L399.4,564.1 L400.6,564.1 L401.8,564.1 L403.0,564.1 L404.2,564.1 L405.5,564.1 L406.7,564.1 L407.9,564.1 L409.1,564.1 L410.3,564.1 L411.5,564.1 L412.7,564.1 L413.9,564.1 L415.2,564.1 L416.4,564.1 L417.6,564.1 L418.8,564.1 L420.0,564.1 L421.2,564.1 L422.4,564.1 L423.6,564.1 L424.9,564.1 L426.1,564.1 L427.3,564.1 L428.5,564.1 L429.7,564.1 L430.9,564.1 L432.1,564.1 L433.3,564.1 L434.6,564.1 L435.8,564.1 L437.0,564.1 L438.2,564.1 L439.4,564.1 L440.6,564.1 L441.8,564.1 L443.0,564.1 L444.3,564.1 L445.5,564.1 L446.7,564.1 L447.9,564.1 L449.1,564.1 L450.3,564.1 L451.5,564.1 L452.8,564.1 L454.0,564.1 L455.2,564.1 L456.4,564.1 L457.6,564.1 L458.8,564.1 L460.0,564.1 L461.2,564.1 L462.5,564.1 L463.7,564.1 L464.9,564.1 L466.1,564.1 L467.3,564.1 L468.5,564.1 L469.7,564.1 L470.9,564.1 L472.2,564.1 L473.4,564.1 L474.6,564.1 L475.8,564.1 L477.0,564.1 L478.2,564.1 L479.4,564.1 L480.6,564.1 L481.9,564.1 L483.1,564.1 L484.3,564.1 L485.5,564.1 L486.7,564.1 L487.9,564.1 L489.1,564.1 L490.3,564.1 L491.6,564.1 L492.8,564.1 L494.0,564.1 L495.2,564.1 L496.4,564.1 L497.6,564.1 L498.8,564.1 L500.0,564.1 L501.3,564.1 L502.5,564.1 L503.7,564.1 L504.9,564.1 L506.1,564.1 L507.3,564.1 L508.5,564.1 L509.7,564.1 L511.0,564.1 L512.2,564.1 L513.4,564.1 L514.6,564.1 L515.8,564.1 L517.0,564.1 L518.2,564.1 L519.4,564.1 L520.7,564.1 L521.9,564.1 L523.1,564.1 L524.3,564.1 L525.5,564.1 L526.7,564.1 L527.9,564.1 L529.1,564.1 L530.4,564.1 L531.6,564.1 L532.8,564.1 L534.0,564.1 L535.2,564.1 L536.4,564.1 L537.6,564.1 L538.8,564.1 L540.1,564.1 L541.3,564.1 L542.5,564.1 L543.7,564.1 L544.9,564.1 L546.1,564.1 L547.3,564.1 L548.5,564.1 L549.8,564.1 L551.0,564.1 L552.2,564.1 L553.4,564.1 L554.6,564.1 L555.8,564.1 L557.0,564.1 L558.2,564.1 L559.5,564.1 L560.7,564.1 L561.9,564.1 L563.1,564.1 L564.3,564.1 L565.5,564.1 L566.7,564.1 L567.9,564.1 L569.2,564.1 L570.4,564.1 L571.6,564.1 L572.8,564.1 L574.0,564.1 L575.2,564.1 L576.4,564.1 L577.6,564.1 L578.9,564.1 L580.1,564.1 L581.3,564.1 L582.5,564.1 L583.7,564.1 L584.9,564.1 L586.1,564.1 L587.3,564.1 L588.6,564.1 L589.8,564.1 L591.0,564.1 L592.2,564.1 L593.4,564.1 L594.6,564.1 L595.8,564.1 L597.0,564.1 L598.3,564.1 L599.5,564.1 L600.7,564.1 L601.9,564.1 L603.1,564.1 L604.3,564.1 L605.5,564.1 L606.7,564.1 L608.0,564.1 L609.2,564.1 L610.4,564.1 L611.6,564.1 L612.8,564.1 L614.0,564.1 L615.2,564.1 L616.4,564.1 L617.7,564.1 L618.9,564.1 L620.1,564.1 L621.3,564.1 L622.5,564.1 L623.7,564.1 L624.9,564.1 L626.1,564.1 L627.4,564.1 L628.6,564.1 L629.8,564.1 L631.0,564.1 L632.2,564.1 L633.4,564.1 L634.6,564.1 L635.8,564.1 L637.1,564.1 L638.3,564.1 L639.5,564.1 L640.7,564.1 L641.9,564.1 L643.1,564.1 L644.3,564.1 L645.5,564.1 L646.8,564.1 L648.0,564.1 L649.2,564.1 L650.4,564.1 L651.6,564.1 L652.8,564.1 L654.0,564.1 L655.3,564.1 L656.5,564.1 L657.7,564.1 L658.9,564.1 L660.1,564.1 L661.3,564.1 L662.5,564.1 L663.7,564.1 L665.0,564.1 L666.2,564.1 L667.4,564.1 L668.5,564.1" stroke="#0072bd" stroke-width="3.0" stroke-dasharray="2.9 2.9"/>
</g>
<text x="77.00" y="596.40" font-size="22.9" text-anchor="middle">0</text>
<text x="150.94" y="596.40" font-size="22.9" text-anchor="middle">50</text>
<text x="224.88" y="596.40" font-size="22.9" text-anchor="middle">100</text>
<text x="298.81" y="596.40" font-size="22.9" text-anchor="middle">150</text>
<text x="372.75" y="596.40" font-size="22.9" text-anchor="middle">200</text>
<text x="446.69" y="596.40" font-size="22.9" text-anchor="middle">250</text>
<text x="520.62" y="596.40" font-size="22.9" text-anchor="middle">300</text>
<text x="594.56" y="596.40" font-size="22.9" text-anchor="middle">350</text>
<text x="668.50" y="596.40" font-size="22.9" text-anchor="middle">400</text>
<text x="68.50" y="571.70" font-size="22.9" text-anchor="end">0</text>
<text x="68.50" y="521.61" font-size="22.9" text-anchor="end">0.5</text>
<text x="68.50" y="471.52" font-size="22.9" text-anchor="end">1</text>
<text x="68.50" y="421.43" font-size="22.9" text-anchor="end">1.5</text>
<text x="68.50" y="371.34" font-size="22.9" text-anchor="end">2</text>
<text><tspan x="352.79" y="288.40" font-size="27" font-style="italic">t</tspan><tspan x="362.35" y="289.00" font-size="27">(</tspan><tspan x="372.04" y="288.40" font-size="25.2">s</tspan><tspan x="382.66" y="289.00" font-size="27">)</tspan></text>
<text><tspan x="352.79" y="623.40" font-size="27" font-style="italic">t</tspan><tspan x="362.35" y="624.00" font-size="27">(</tspan><tspan x="372.04" y="623.40" font-size="25.2">s</tspan><tspan x="382.66" y="624.00" font-size="27">)</tspan></text>
<text transform="rotate(-90)"><tspan x="-161.85" y="19.20" font-size="27" font-style="italic">V</tspan><tspan x="-140.85" y="19.80" font-size="27">(</tspan><tspan x="-132.67" y="19.20" font-size="25.2">m</tspan><tspan x="-109.60" y="25.20" font-size="36">/</tspan><tspan x="-97.96" y="19.20" font-size="25.2">s</tspan><tspan x="-87.84" y="19.80" font-size="27">)</tspan></text>
<text transform="rotate(-90)"><tspan x="-499.08" y="24.80" font-size="26" font-style="italic">e</tspan><tspan x="-488.00" y="28.40" font-size="19.5" font-style="italic">V</tspan><tspan x="-473.55" y="25.40" font-size="27">(</tspan><tspan x="-465.27" y="24.80" font-size="25.2">m</tspan><tspan x="-442.00" y="30.80" font-size="36">/</tspan><tspan x="-429.36" y="24.80" font-size="25.2">s</tspan><tspan x="-419.14" y="25.40" font-size="27">)</tspan></text>
<rect x="516.6" y="119.3" width="146.19999999999993" height="106.8" fill="#fff" stroke="#262626" stroke-width="1.9"/>
<path d="M522.2,134H580.2" stroke="#000" stroke-width="3.4" stroke-dasharray="11.6 2.9 5.8 2.9" fill="none"/>
<path d="M522.2,159.5H580.2" stroke="#008000" stroke-width="3.0" fill="none"/>
<text x="584.4" y="164.90" font-size="21.2"><tspan textLength="72.6" lengthAdjust="spacingAndGlyphs">PFTCC</tspan></text>
<path d="M522.2,185.2H580.2" stroke="#bf00bf" stroke-width="3.0" stroke-dasharray="11.6 11.4" fill="none"/>
<text x="584.4" y="190.60" font-size="21.2"><tspan textLength="45.4" lengthAdjust="spacingAndGlyphs">CCC</tspan></text>
<path d="M522.2,211H580.2" stroke="#0072bd" stroke-width="3.0" stroke-dasharray="2.9 2.9" fill="none"/>
<text x="584.4" y="216.40" font-size="21.2"><tspan textLength="58.6" lengthAdjust="spacingAndGlyphs">CFTC</tspan></text>
<text><tspan x="584.98" y="139.30" font-size="22.3" font-style="italic">V</tspan><tspan x="596.63" y="142.30" font-size="15.8" font-style="italic">r</tspan><tspan x="603.01" y="142.30" font-size="15.2" font-style="italic">e</tspan><tspan x="611.16" y="142.30" font-size="16.5" font-style="italic">f</tspan></text>
<rect x="523.45" y="348.2" width="137.39999999999998" height="78.69999999999999" fill="#fff" stroke="#262626" stroke-width="1.9"/>
<path d="M528.9,362.7H586.9" stroke="#008000" stroke-width="3.0" fill="none"/>
<text x="591.6" y="369.90" font-size="20.8">PFTCC</text>
<path d="M528.9,387.4H586.9" stroke="#bf00bf" stroke-width="3.0" stroke-dasharray="11.6 11.4" fill="none"/>
<text x="591.6" y="394.60" font-size="20.8">CCC</text>
<path d="M528.9,412.3H586.9" stroke="#0072bd" stroke-width="3.0" stroke-dasharray="2.9 2.9" fill="none"/>
<text x="591.6" y="419.50" font-size="20.8">CFTC</text>
</g>
</svg>
</body></html>
